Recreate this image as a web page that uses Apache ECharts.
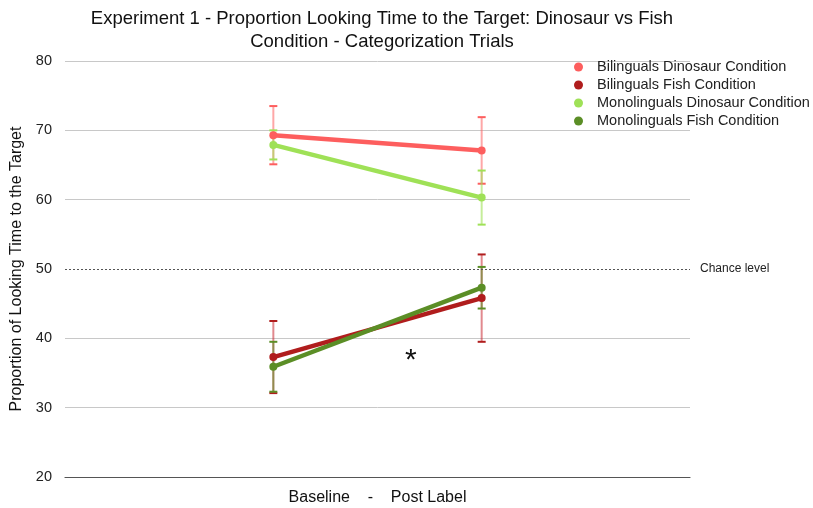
<!DOCTYPE html>
<html>
<head>
<meta charset="utf-8">
<script src="https://cdn.jsdelivr.net/npm/echarts@6/dist/echarts.min.js"></script>
<style>
  html, body { margin: 0; padding: 0; background: #fff; }
  #chart { width: 813px; height: 508px; }
</style>
</head>
<body>
<div id="chart"></div>
<script>
// Phases of the experiment (plotted at x = 1 and x = 2)
const categories = ['Baseline', 'Post Label'];

// Mean proportion of looking time to the target (%)
const bilingualsDinosaur = [69.3, 67.1];
const bilingualsFish = [37.3, 45.8];
const monolingualsDinosaur = [67.9, 60.3];
const monolingualsFish = [35.9, 47.3];

// Error bar half-widths (%)
const bilingualsDinosaurErr = [4.2, 4.8];
const bilingualsFishErr = [5.2, 6.3];
const monolingualsDinosaurErr = [2.1, 3.9];
const monolingualsFishErr = [3.6, 3.0];

const yTicks = [20, 30, 40, 50, 60, 70, 80];
const chanceLevel = 50;

const groups = [
  { name: 'Bilinguals Dinosaur Condition', values: bilingualsDinosaur, err: bilingualsDinosaurErr, color: '#fd5e5e', errColor: 'rgba(253,94,94,0.55)' },
  { name: 'Bilinguals Fish Condition', values: bilingualsFish, err: bilingualsFishErr, color: '#b01d1d', errColor: 'rgba(200,40,50,0.55)' },
  { name: 'Monolinguals Dinosaur Condition', values: monolingualsDinosaur, err: monolingualsDinosaurErr, color: '#9fe157', errColor: 'rgba(159,225,87,0.6)' },
  { name: 'Monolinguals Fish Condition', values: monolingualsFish, err: monolingualsFishErr, color: '#5b8e26', errColor: 'rgba(91,142,38,0.6)' }
];

const FONT = '"Liberation Sans", Helvetica, Arial, sans-serif';

function errorSeries(g) {
  const data = g.values.map((v, i) => [i + 1, v - g.err[i], v + g.err[i]]);
  return {
    type: 'custom',
    name: g.name + ' error',
    z: 1,
    silent: true,
    data: data,
    renderItem: function (params, api) {
      const x = api.value(0);
      const lo = api.coord([x, api.value(1)]);
      const hi = api.coord([x, api.value(2)]);
      const half = 4;
      return {
        type: 'group',
        children: [
          { type: 'line', shape: { x1: lo[0], y1: lo[1], x2: hi[0], y2: hi[1] }, style: { stroke: g.errColor, lineWidth: 2 } },
          { type: 'line', shape: { x1: lo[0] - half, y1: lo[1], x2: lo[0] + half, y2: lo[1] }, style: { stroke: g.color, lineWidth: 2 } },
          { type: 'line', shape: { x1: hi[0] - half, y1: hi[1], x2: hi[0] + half, y2: hi[1] }, style: { stroke: g.color, lineWidth: 2 } }
        ]
      };
    }
  };
}

function lineSeries(g, idx) {
  const s = {
    type: 'line',
    name: g.name,
    z: 3,
    data: g.values.map((v, i) => [i + 1, v]),
    symbol: 'circle',
    symbolSize: 8,
    lineStyle: { color: g.color, width: 4.5 },
    itemStyle: { color: g.color },
    emphasis: { disabled: true }
  };
  if (idx === 0) {
    s.markLine = {
      silent: true,
      symbol: 'none',
      lineStyle: { type: [2, 2], color: '#555', width: 1.2 },
      label: { show: true, position: 'end', formatter: 'Chance level', fontSize: 12, color: '#222', fontFamily: FONT, distance: 10 },
      data: [{ yAxis: chanceLevel }]
    };
  }
  return s;
}

const chart = echarts.init(document.getElementById('chart'));
chart.setOption({
  animation: false,
  backgroundColor: '#fff',
  title: {
    text: 'Experiment 1 - Proportion Looking Time to the Target: Dinosaur vs Fish\nCondition - Categorization Trials',
    left: 377,
    textAlign: 'center',
    top: 2,
    textStyle: { fontFamily: FONT, fontSize: 18.5, fontWeight: 'normal', color: '#111', lineHeight: 23 }
  },
  legend: {
    data: groups.map(g => g.name),
    orient: 'vertical',
    left: 569,
    top: 54,
    icon: 'circle',
    itemWidth: 9,
    itemHeight: 9,
    itemGap: 2,
    textStyle: { fontFamily: FONT, fontSize: 14.5, lineHeight: 16, color: '#222', padding: [0, 0, 0, 9] }
  },
  grid: { left: 65, right: 123, top: 61, bottom: 31, outerBoundsMode: 'none' },
  xAxis: {
    type: 'value',
    min: 0,
    max: 3,
    interval: 1,
    axisLine: { show: true, lineStyle: { color: '#555', width: 1.2 } },
    axisTick: { show: false },
    axisLabel: { show: false },
    splitLine: { show: false },
    name: categories[0] + '    -    ' + categories[1],
    nameLocation: 'middle',
    nameGap: 13,
    nameTextStyle: { fontFamily: FONT, fontSize: 16, color: '#111', verticalAlign: 'top' }
  },
  yAxis: {
    type: 'value',
    min: yTicks[0],
    max: yTicks[yTicks.length - 1],
    interval: 10,
    axisLine: { show: false },
    axisTick: { show: false },
    axisLabel: { fontFamily: FONT, fontSize: 14.5, color: '#222', margin: 13 },
    splitLine: {
      show: true,
      lineStyle: { color: ['#555', '#c8c8c8', '#c8c8c8', 'rgba(0,0,0,0)', '#c8c8c8', '#c8c8c8', '#c8c8c8'], width: 1 }
    },
    name: 'Proportion of Looking Time to the Target',
    nameLocation: 'middle',
    nameGap: 39,
    nameTextStyle: { fontFamily: FONT, fontSize: 16, color: '#111' }
  },
  graphic: [{
    type: 'text',
    left: 405,
    top: 346,
    style: { text: '*', fontFamily: FONT, fontSize: 30, fill: '#111' }
  }],
  series: groups.map(errorSeries).concat(groups.map(lineSeries))
});
</script>
</body>
</html>
